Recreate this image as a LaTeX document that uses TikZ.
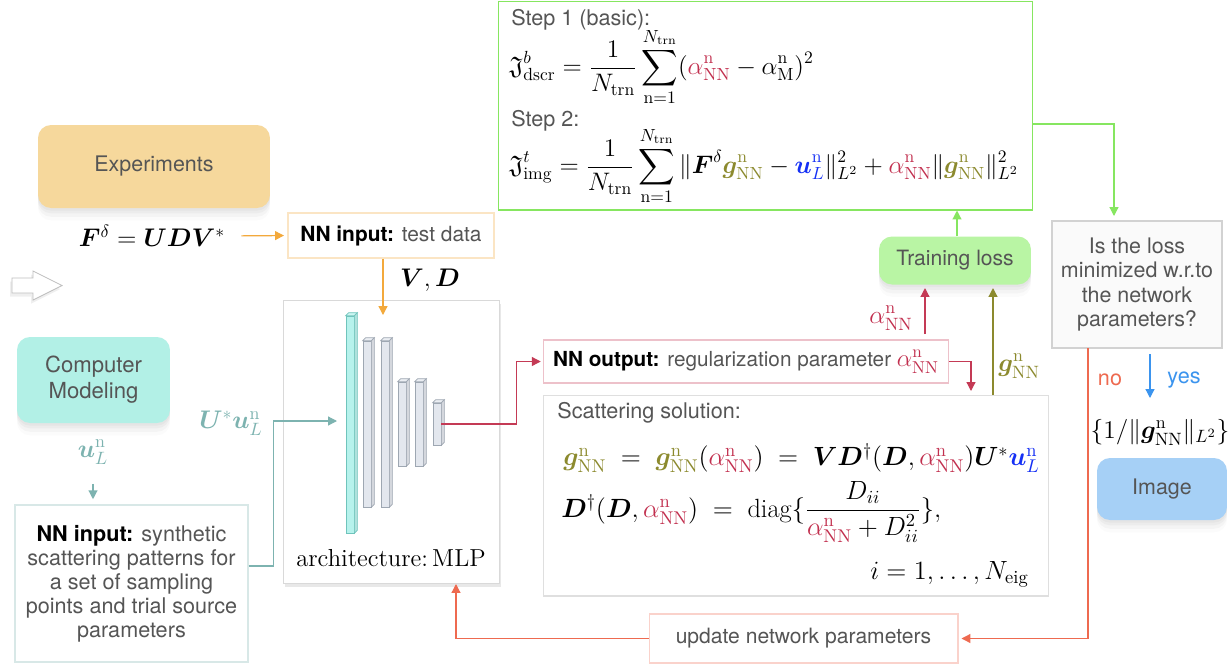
\RequirePackage{fix-cm}
\documentclass[tikz,border=0pt]{standalone}
\usepackage{amsmath,amssymb,bm}
\usepackage{fontspec}
\setsansfont{TeX Gyre Heros}
\usetikzlibrary{arrows.meta,shadows,calc}
\definecolor{acol}{HTML}{C2304F}
\definecolor{gcol}{HTML}{8C8A2E}
\definecolor{ucol}{HTML}{1530F5}
\definecolor{tealc}{HTML}{7DB3B0}
\definecolor{orac}{HTML}{F3A93C}
\definecolor{grnc}{HTML}{86E660}
\definecolor{redc}{HTML}{C43A55}
\definecolor{noc}{HTML}{EE6A50}
\definecolor{yesc}{HTML}{3B94EE}
\definecolor{txtg}{HTML}{555555}
\definecolor{expf}{HTML}{F6D89C}
\definecolor{compf}{HTML}{B2F0E6}
\definecolor{tlf}{HTML}{B9F5A4}
\definecolor{imgf}{HTML}{A6D0F6}
\definecolor{layf}{HTML}{E3E7EE}
\definecolor{layd}{HTML}{9EA7B2}
\definecolor{cyf}{HTML}{B6F2EC}
\definecolor{cyd}{HTML}{6FC4BC}
\newcommand\aNN{\textcolor{acol}{\alpha^{\mathrm{n}}_{\mathrm{NN}}}}
\newcommand\gNN{\textcolor{gcol}{\bm{g}^{\mathrm{n}}_{\mathrm{NN}}}}
\newcommand\uLn{\textcolor{ucol}{\bm{u}^{\mathrm{n}}_{L}}}
\tikzset{
  sbox/.style={font=\sffamily\fontsize{12.2}{14.5}\selectfont, text=txtg, align=center, inner sep=0pt},
  softshadow/.style={drop shadow={shadow xshift=0pt, shadow yshift=-1.5pt, opacity=0.07},
                     drop shadow={shadow xshift=0pt, shadow yshift=-3pt, opacity=0.06},
                     drop shadow={shadow xshift=0pt, shadow yshift=-5pt, opacity=0.05},
                     drop shadow={shadow xshift=0pt, shadow yshift=-7pt, opacity=0.03}},
  rbox/.style={sbox, rounded corners=0.26cm, softshadow},
  pbox/.style={sbox, draw, line width=0.6pt},
  stxt/.style={font=\sffamily\fontsize{12.3}{14.5}\selectfont, text=txtg, inner sep=0pt},
  mtxt/.style={font=\fontsize{14.5}{17}\selectfont, inner sep=0pt},
  conn/.style={line width=0.7pt, -{Triangle[length=5pt,width=5pt]}},
  layer/.style={draw=layd, fill=layf, line width=0.4pt, inner sep=0pt, minimum width=0.16cm},
}
\begin{document}
\begin{tikzpicture}[x=0.02cm,y=-0.02cm]
\useasboundingbox[fill=white] (0,0) rectangle (1232,664);

% ---------- top loss box
\node[draw=grnc, line width=0.6pt, minimum width=10.7cm, minimum height=4.18cm, inner sep=0] (topbox) at (765.5,105.5) {};
\node[stxt, anchor=west] (s1) at (511,20) {Step 1 (basic):};
\node[mtxt, anchor=west, font=\fontsize{14.4}{17}\selectfont] (eq1) at (509,67)
  {$\displaystyle \mathfrak{J}^{b}_{\mathrm{dscr}}=\frac{1}{N_{\mathrm{trn}}}\sum_{\mathrm{n}=1}^{N_{\mathrm{trn}}}(\aNN-\alpha^{\mathrm{n}}_{\mathrm{M}})^2$};
\node[stxt, anchor=west] (s2) at (511,121) {Step 2:};
\node[mtxt, anchor=west, font=\fontsize{14.4}{17}\selectfont] (eq2) at (509,166)
  {$\displaystyle \mathfrak{J}^{t}_{\mathrm{img}}=\frac{1}{N_{\mathrm{trn}}}\sum_{\mathrm{n}=1}^{N_{\mathrm{trn}}}\|\bm{F}^{\delta}\gNN-\uLn\|^2_{L^2}+\aNN\|\gNN\|^2_{L^2}$};

% ---------- experiments branch
\node[rbox, fill=expf, minimum width=4.64cm, minimum height=1.66cm] (exp) at (154,166.5) {Experiments};
\node[mtxt] (fdelta) at (152,236) {$\bm{F}^{\delta}=\bm{U}\bm{D}\bm{V}^{*}$};
\node[pbox, draw=orac!30, minimum width=4.12cm, minimum height=0.9cm, font=\sffamily\fontsize{11.9}{14}\selectfont] (test) at (391,235.5) {\textcolor{black}{\textbf{NN input:}} test data};
\node[mtxt] (vd) at (430,280) {$\bm{V},\bm{D}$};

% ---------- hollow arrow (drawn shape)
\filldraw[fill=white, draw=gray!50, line width=0.5pt, drop shadow={shadow xshift=-1pt, shadow yshift=-2pt, opacity=0.12}]
  (12,278) -- (33,278) -- (33,271) -- (62,285.5) -- (33,300) -- (33,293) -- (12,293) -- cycle;

% ---------- computer modeling branch
\node[rbox, fill=compf, minimum width=3.06cm, minimum height=1.72cm, font=\sffamily\fontsize{12.6}{14.8}\selectfont] (comp) at (93.5,380) {Computer\\Modeling};
\node[mtxt, text=tealc] (ul) at (93,452) {$\bm{u}^{\mathrm{n}}_{L}$};
\node[pbox, draw=tealc!30, minimum width=4.66cm, minimum height=3.14cm, font=\sffamily\fontsize{12.3}{13.7}\selectfont] (nnin) at (131.5,583.5)
  {\textcolor{black}{\textbf{NN input:}} synthetic\\scattering patterns for\\a set of sampling\\points and trial source\\parameters};
\node[mtxt, text=tealc] (uu) at (231,423) {$\bm{U}^{*}\bm{u}^{\mathrm{n}}_{L}$};

% ---------- MLP
\node[draw=gray!30, fill=white, line width=0.5pt, minimum width=4.32cm, minimum height=5.66cm, inner sep=0, drop shadow={shadow xshift=1pt, shadow yshift=-2.5pt, opacity=0.18}] (mlp) at (391,441.5) {};
\node[layer, draw=cyd, fill=cyf, minimum height=4.34cm] (l1l) at (350,424.5) {};
\node[layer, minimum height=3.32cm] (l2l) at (367,424) {};
\node[layer, minimum height=3.32cm] (l3l) at (385,424) {};
\node[layer, minimum height=1.68cm] (l4l) at (402,424) {};
\node[layer, minimum height=1.68cm] (l5l) at (419,424) {};
\node[layer, minimum height=0.84cm] (l6l) at (437,424) {};
\foreach \n/\d/\f in {l1/cyd/cyf, l2/layd/layf, l3/layd/layf, l4/layd/layf, l5/layd/layf, l6/layd/layf}{
  \fill[\f!70!white, draw=\d, line width=0.4pt] (\n l.north west) -- ++(3,-3) -- ([shift={(3,-3)}]\n l.north east) -- (\n l.north east) -- cycle;
  \fill[\f!85!gray, draw=\d, line width=0.4pt] (\n l.north east) -- ([shift={(3,-3)}]\n l.north east) -- ([shift={(3,-3)}]\n l.south east) -- (\n l.south east) -- cycle;
}
\node[mtxt, font=\fontsize{14}{16}\selectfont] (arch) at (391,558) {architecture:\,MLP};

% ---------- outputs
\node[pbox, draw=acol!30, minimum width=8.12cm, minimum height=0.86cm, font=\sffamily\fontsize{11.8}{14}\selectfont] (nnout) at (746,361.5)
  {\textcolor{black}{\textbf{NN output:}} regularization parameter {\fontsize{14}{16}\selectfont$\aNN$}};
\node[draw=gray!25, line width=0.6pt, minimum width=10.12cm, minimum height=4.02cm, inner sep=0] (scat) at (796,495.5) {};
\node[stxt, anchor=west] (st) at (557,413) {Scattering solution:};
\node[mtxt, anchor=west, font=\fontsize{15}{18}\selectfont] (seq1) at (563,458)
  {$\gNN\;=\;\gNN(\aNN)\;=\;\bm{V}\bm{D}^{\dagger}(\bm{D},\aNN)\bm{U}^{*}\uLn$};
\node[mtxt, anchor=west, font=\fontsize{15}{18}\selectfont] (seq2) at (561,512)
  {$\bm{D}^{\dagger}(\bm{D},\aNN)\;=\;\mathrm{diag}\{\dfrac{D_{ii}}{\aNN+D^2_{ii}}\},$};
\node[mtxt, anchor=east, font=\fontsize{15}{18}\selectfont] (seq3) at (1029,574) {$i=1,\ldots,N_{\mathrm{eig}}$};
\node[pbox, draw=noc!30, minimum width=6.18cm, minimum height=0.98cm, font=\sffamily\fontsize{12}{14}\selectfont] (upd) at (803.5,638.5) {update network parameters};

% ---------- training loss & decision
\node[rbox, fill=tlf, minimum width=3.04cm, minimum height=0.96cm, font=\sffamily\fontsize{12}{14}\selectfont] (tl) at (955,260.5) {Training loss};
\node[mtxt, text=acol] (al) at (891,318) {$\alpha^{\mathrm{n}}_{\mathrm{NN}}$};
\node[mtxt, text=gcol] (gl) at (1019,366) {$\bm{g}^{\mathrm{n}}_{\mathrm{NN}}$};
\node[pbox, draw=gray!35, fill=gray!4, minimum width=3.4cm, minimum height=2.54cm, font=\sffamily\fontsize{12.2}{13.9}\selectfont] (isl) at (1137,284.5)
  {Is the loss\\minimized w.r.to\\the network\\parameters?};
\node[stxt, text=noc] (no) at (1110,380) {no};
\node[stxt, text=yesc] (yes) at (1184,380) {yes};
\node[mtxt] (gn) at (1160,432) {$\{1/\|\bm{g}^{\mathrm{n}}_{\mathrm{NN}}\|_{L^2}\}$};
\node[rbox, fill=imgf, minimum width=2.6cm, minimum height=1.24cm] (img) at (1162,489) {Image};

% ---------- coordinates
\coordinate (mlpin) at (383,315);
\coordinate (l1in) at (337,421);
\coordinate (scin) at (971,391);
\coordinate (tla) at (925,288);
\coordinate (tlb) at (993,288);
\coordinate (tlc) at (957,236);
\coordinate (isin) at (1114,216);
\coordinate (mlpb) at (456,584);
\coordinate (ysa) at (1150,354);
\coordinate (ysb) at (1150,398);
\coordinate (noa) at (1088,348);

% ---------- connectors
\draw[conn, orac, shorten <=9pt, shorten >=2pt] (fdelta.east) -- (test.west);
\draw[conn, orac] (test.south -| mlpin) -- (mlpin);
\draw[conn, tealc, shorten <=11pt, shorten >=3pt] (ul.south) -- (ul.south |- nnin.north);
\draw[conn, tealc] (nnin.east |- 0,566) -- ++(25,0) |- (l1in);
\draw[conn, redc] (l6l.east) -- ++(75,0) |- ([xshift=-1pt]nnout.west);
\draw[conn, redc] (nnout.east) -| (scin);
\draw[conn, redc, shorten <=3pt] (nnout.north -| tla) -- (tla);
\draw[conn, gcol] (scat.north -| tlb) -- (tlb);
\draw[conn, grnc] (tlc) -- (topbox.south -| tlc);
\draw[conn, grnc] (topbox.east |- 0,124) -| (isin);
\draw[conn, yesc] (ysa) -- (ysb);
\draw[conn, noc] (noa) |- ([xshift=1.7pt]upd.east);
\draw[conn, noc] (upd.west) -| (mlpb);
\end{tikzpicture}
\end{document}
